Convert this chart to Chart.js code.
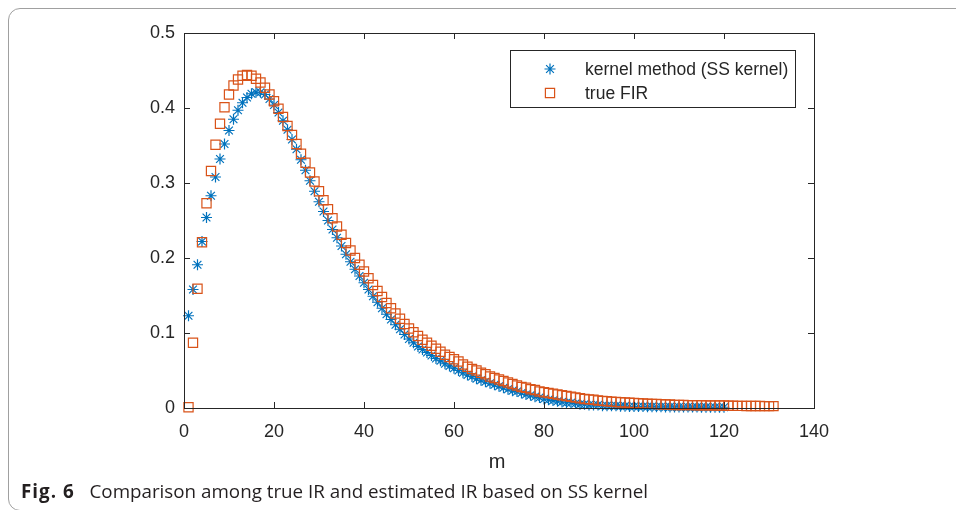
<!DOCTYPE html>
<html><head><meta charset="utf-8">
<script src="https://cdn.jsdelivr.net/npm/chart.js@4.4.1/dist/chart.umd.min.js"></script>
<style>
html,body{margin:0;padding:0;background:#fff;}
body{width:956px;height:510px;position:relative;overflow:hidden;font-family:"Liberation Sans",Arial,sans-serif;}
#frame{position:absolute;left:8px;top:8px;width:1000px;height:503px;border:1px solid #a0a0a0;border-radius:12px;box-sizing:border-box;}
#wrap{position:absolute;left:0;top:0;width:956px;height:510px;}
#caption{position:absolute;left:21px;top:478px;font-family:"Open Sans",sans-serif;font-size:18.8px;line-height:26px;color:#231f20;white-space:nowrap;}
#caption b{font-weight:700;letter-spacing:1px;margin-right:10px;}
</style></head>
<body>
<div id="frame"></div>
<div id="wrap"><canvas id="c" width="956" height="510"></canvas></div>
<div id="caption"><b>Fig. 6</b> Comparison among true IR and estimated IR based on SS kernel</div>
<script>
const xTickValues = [0,20,40,60,80,100,120,140];
const xTickLabels = ['0','20','40','60','80','100','120','140'];
const yTickValues = [0,0.1,0.2,0.3,0.4,0.5];
const yTickLabels = ['0','0.1','0.2','0.3','0.4','0.5'];
const xTitle = 'm';
const seriesNames = ['kernel method (SS kernel)','true FIR'];

// kernel estimate, m = 1..120
const kernelEst = [
0.123,0.158,0.191,0.222,0.254,0.283,0.308,0.332,0.352,0.370,
0.385,0.397,0.407,0.414,0.419,0.421,0.421,0.418,0.412,0.404,
0.394,0.383,0.371,0.358,0.345,0.331,0.317,0.303,0.289,0.275,
0.262,0.250,0.238,0.227,0.216,0.205,0.195,0.185,0.176,0.167,
0.158,0.149,0.141,0.133,0.125,0.118,0.111,0.105,0.098,0.092,
0.087,0.082,0.078,0.074,0.070,0.066,0.063,0.059,0.056,0.053,
0.050,0.047,0.044,0.042,0.039,0.037,0.035,0.033,0.031,0.029,
0.027,0.025,0.023,0.022,0.020,0.018,0.017,0.015,0.014,0.012,
0.011,0.010,0.009,0.008,0.007,0.007,0.006,0.005,0.005,0.004,
0.004,0.004,0.003,0.003,0.003,0.003,0.0025,0.0025,0.002,0.002,
0.002,0.002,0.0018,0.0018,0.0016,0.0016,0.0015,0.0015,0.0014,0.0014,
0.0013,0.0013,0.0012,0.0012,0.0011,0.0011,0.001,0.001,0.001,0.001
];

// true FIR, m = 1..131
const trueFIR = [
0.001,0.087,0.159,0.221,0.273,0.316,0.351,0.379,0.401,0.418,
0.430,0.438,0.443,0.444,0.443,0.439,0.434,0.427,0.418,0.409,
0.399,0.388,0.376,0.364,0.352,0.339,0.327,0.314,0.302,0.289,
0.277,0.265,0.253,0.242,0.231,0.220,0.210,0.200,0.191,0.182,
0.173,0.164,0.156,0.148,0.140,0.133,0.126,0.119,0.112,0.106,
0.101,0.096,0.091,0.087,0.083,0.079,0.075,0.071,0.068,0.065,
0.062,0.058,0.055,0.052,0.050,0.047,0.045,0.042,0.040,0.038,
0.036,0.034,0.032,0.030,0.028,0.027,0.025,0.024,0.022,0.021,
0.020,0.019,0.018,0.017,0.016,0.015,0.014,0.013,0.012,0.0115,
0.011,0.010,0.0095,0.009,0.0085,0.008,0.0077,0.0073,0.007,0.0067,
0.0064,0.006,0.0058,0.0055,0.0053,0.005,0.0048,0.0046,0.004,0.004,
0.004,0.0038,0.0038,0.0036,0.0036,0.0035,0.0035,0.0034,0.0034,0.0033,
0.003,0.003,0.0028,0.0028,0.0027,0.0027,0.0026,0.0026,0.0025,0.0025,0.0025
];

const BLUE = '#0072BD', ORANGE = '#D95319', AXC = '#262626';
const AXFONT = '"Liberation Sans", Arial, sans-serif';

const frame = {
  id: 'frame',
  afterDraw(chart) {
    const ctx = chart.ctx;
    const {left, right, top, bottom} = chart.chartArea;
    const sx = chart.scales.x, sy = chart.scales.y;
    ctx.save();
    ctx.strokeStyle = AXC;
    ctx.lineWidth = 1;
    ctx.strokeRect(Math.round(left) + 0.5, Math.round(top) + 0.5, Math.round(right - left), Math.round(bottom - top));
    const TL = 6;
    ctx.beginPath();
    sx.ticks.forEach(t => {
      const p = Math.round(sx.getPixelForValue(t.value)) + 0.5;
      ctx.moveTo(p, bottom); ctx.lineTo(p, bottom - TL);
      ctx.moveTo(p, top); ctx.lineTo(p, top + TL);
    });
    sy.ticks.forEach(t => {
      const p = Math.round(sy.getPixelForValue(t.value)) + 0.5;
      ctx.moveTo(left, p); ctx.lineTo(left + TL, p);
      ctx.moveTo(right, p); ctx.lineTo(right - TL, p);
    });
    ctx.stroke();
    // x title
    ctx.fillStyle = AXC;
    ctx.font = '20px ' + AXFONT;
    ctx.textAlign = 'center';
    ctx.textBaseline = 'middle';
    ctx.fillText(xTitle, (left + right) / 2 - 2, 462);
    // legend
    const lx = 510, ly = 50, lw = 285, lh = 57;
    ctx.fillStyle = '#fff';
    ctx.fillRect(lx, ly, lw, lh);
    ctx.strokeStyle = AXC;
    ctx.strokeRect(lx + 0.5, ly + 0.5, lw, lh);
    const rows = [69, 93];
    ctx.save();
    ctx.strokeStyle = BLUE; ctx.fillStyle = BLUE; ctx.lineWidth = 1.2;
    Chart.helpers.drawPoint(ctx, {pointStyle: 'star', radius: 5.5, borderWidth: 1.2, rotation: 0}, 550, rows[0]);
    ctx.restore();
    ctx.save();
    ctx.strokeStyle = ORANGE; ctx.fillStyle = 'rgba(0,0,0,0)'; ctx.lineWidth = 1.2;
    Chart.helpers.drawPoint(ctx, {pointStyle: 'rect', radius: 6.5, borderWidth: 1.2, rotation: 0}, 550, rows[1]);
    ctx.restore();
    ctx.fillStyle = AXC;
    ctx.font = '17.5px ' + AXFONT;
    ctx.textAlign = 'left';
    ctx.textBaseline = 'middle';
    ctx.fillText(seriesNames[0], 585, rows[0] + 1);
    ctx.fillText(seriesNames[1], 585, rows[1] + 1);
    ctx.restore();
  }
};

new Chart(document.getElementById('c'), {
  type: 'scatter',
  data: {
    datasets: [
      { label: seriesNames[0], data: kernelEst.map((v, i) => ({x: i + 1, y: v})),
        pointStyle: 'star', pointRadius: 5.5, pointBorderWidth: 1.2,
        pointBorderColor: BLUE, pointBackgroundColor: BLUE, borderColor: BLUE,
        showLine: false, order: 2, clip: false },
      { label: seriesNames[1], data: trueFIR.map((v, i) => ({x: i + 1, y: v})),
        pointStyle: 'rect', pointRadius: 6.5, pointBorderWidth: 1.2,
        pointBorderColor: ORANGE, pointBackgroundColor: 'rgba(0,0,0,0)', borderColor: ORANGE,
        showLine: false, order: 1, clip: false }
    ]
  },
  options: {
    responsive: false, animation: false, events: [],
    layout: { padding: { left: 0, top: 33, right: 142, bottom: 0 } },
    plugins: { legend: { display: false }, tooltip: { enabled: false } },
    scales: {
      x: {
        type: 'linear', min: 0, max: 140,
        afterBuildTicks: s => { s.ticks = xTickValues.map(v => ({value: v})); },
        afterFit: s => { s.height = 102; },
        ticks: { padding: 13, color: AXC, font: { size: 18, family: AXFONT }, maxRotation: 0, autoSkip: false,
                 callback: (v, i) => xTickLabels[i] },
        grid: { display: false, drawTicks: false },
        border: { display: false }
      },
      y: {
        type: 'linear', min: 0, max: 0.5,
        afterBuildTicks: s => { s.ticks = yTickValues.map(v => ({value: v})); },
        afterFit: s => { s.width = 184; },
        ticks: { padding: 9, color: AXC, font: { size: 18, family: AXFONT }, autoSkip: false,
                 callback: (v, i) => yTickLabels[i] },
        grid: { display: false, drawTicks: false },
        border: { display: false }
      }
    }
  },
  plugins: [frame]
});
</script>
</body></html>
